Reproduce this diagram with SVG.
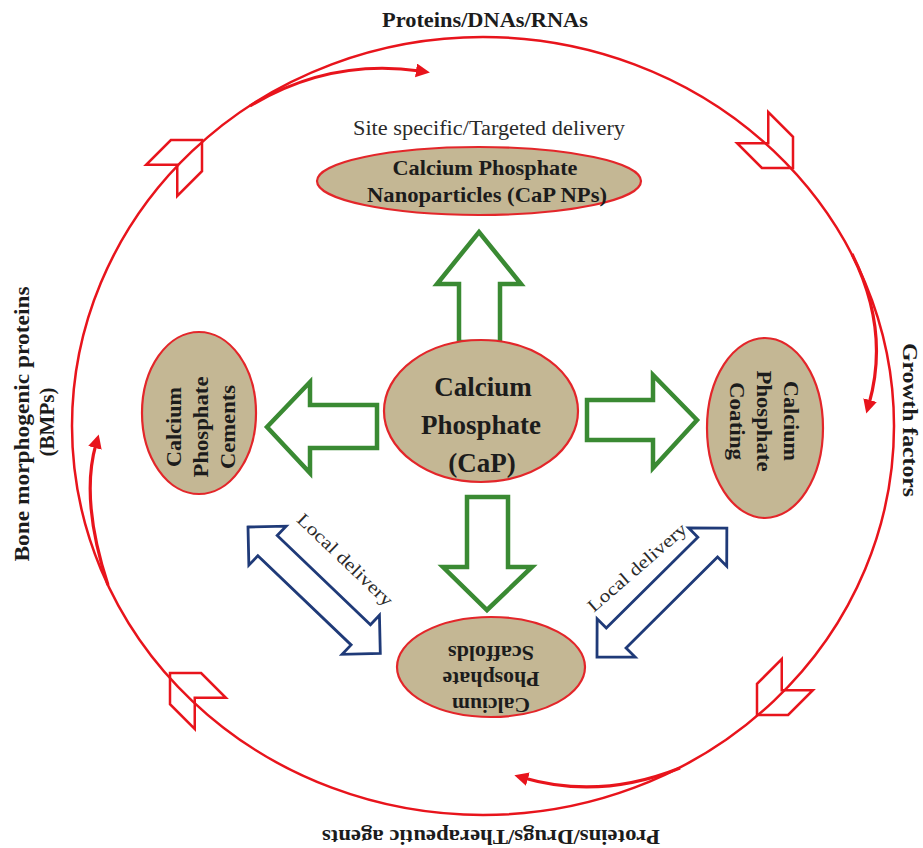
<svg xmlns="http://www.w3.org/2000/svg" xmlns:xlink="http://www.w3.org/1999/xlink" width="923" height="848" viewBox="0 0 923 848">
<style>
.bg{fill:#ffffff}
.n ellipse{fill:#c4b794;stroke:#e3262a;stroke-width:2.2}
.t{font-family:"Liberation Serif","Times New Roman",serif;font-weight:bold;fill:#1c1c1c;text-anchor:middle}
.reg{font-weight:normal;fill:#2a2a2a}
.ring{fill:none;stroke:#e8141c;stroke-width:2.5}
.chev{fill:none;stroke:#e8141c;stroke-width:2.5;stroke-linejoin:miter}
.curl{fill:none;stroke:#e8141c;stroke-width:3.2}
.green{fill:#ffffff;stroke:#3a8a33;stroke-width:4.5;stroke-linejoin:miter}
.blue{fill:#ffffff;stroke:#1f3a78;stroke-width:2.8;stroke-linejoin:miter}
</style>
<defs>
<marker id="ah" markerWidth="16" markerHeight="16" refX="4" refY="7" orient="auto" markerUnits="userSpaceOnUse">
<path d="M0,0 L14,7 L0,14 Z" fill="#e8141c"/>
</marker>
<path id="chv" d="M0,0 L-22,-22 L-57,-22 L-35,0 L-57,22 L-22,22 Z"/>
<polygon id="dbl" points="0,0 27,-27 27,-14 156,-14 156,-27 183,0 156,27 156,14 27,14 27,27"/>
</defs>
<rect class="bg" x="0" y="0" width="923" height="848"/>

<g id="connectors">
<ellipse class="ring" cx="483" cy="426" rx="411" ry="389"/>
<path class="curl" d="M250,106 Q330,58 420,71" marker-end="url(#ah)"/>
<path class="curl" d="M852,254 Q890,330 869,404" marker-end="url(#ah)"/>
<path class="curl" d="M680,768 Q600,800 524,778" marker-end="url(#ah)"/>
<path class="curl" d="M108,585 Q80,500 96,444" marker-end="url(#ah)"/>
<use xlink:href="#chv" class="chev" transform="translate(202,140) rotate(-45)"/>
<use xlink:href="#chv" class="chev" transform="translate(793,168) rotate(45)"/>
<use xlink:href="#chv" class="chev" transform="translate(757,715) rotate(135)"/>
<use xlink:href="#chv" class="chev" transform="translate(170,673) rotate(-135)"/>
<polygon class="green" points="459,342 459,284 437,284 479,232 521,284 500,284 500,342"/>
<polygon class="green" points="377,405 310,405 310,382 267,427 310,473 310,448 377,448"/>
<polygon class="green" points="587,400 653,400 653,375 697,420 653,468 653,440 587,440"/>
<polygon class="green" points="467,497 508,497 508,567 532,567 487,610 443,567 467,567"/>
<use xlink:href="#dbl" class="blue" transform="translate(248,527) rotate(43.7)"/>
<use xlink:href="#dbl" class="blue" transform="translate(597,657) rotate(-44.8)"/>
<text class="t reg" font-size="18" textLength="125" lengthAdjust="spacingAndGlyphs" transform="translate(341,564) rotate(43.7)">Local delivery</text>
<text class="t reg" font-size="18" textLength="125" lengthAdjust="spacingAndGlyphs" transform="translate(641,572) rotate(-41)">Local delivery</text>
</g>

<g id="label-top">
<text class="t" x="485" y="27" font-size="20" textLength="206" lengthAdjust="spacingAndGlyphs">Proteins/DNAs/RNAs</text>
</g>
<g id="label-site">
<text class="t reg" x="489" y="135" font-size="20" textLength="272" lengthAdjust="spacingAndGlyphs">Site specific/Targeted delivery</text>
</g>
<g id="label-left">
<text class="t" font-size="21" textLength="275" lengthAdjust="spacingAndGlyphs" transform="translate(29,424) rotate(-90)">Bone morphogenic proteins</text>
<text class="t" font-size="21" transform="translate(54,422) rotate(-90)">(BMPs)</text>
</g>
<g id="label-right">
<text class="t" font-size="20" textLength="154" lengthAdjust="spacingAndGlyphs" transform="translate(903,420) rotate(90)">Growth factors</text>
</g>
<g id="label-bottom">
<text class="t" font-size="20" textLength="338" lengthAdjust="spacingAndGlyphs" transform="translate(491,830) rotate(180)">Proteins/Drugs/Therapeutic agents</text>
</g>

<g id="node-nanoparticles" class="n">
<ellipse cx="479" cy="181" rx="162" ry="34"/>
<text class="t" x="485" y="175" font-size="21" textLength="185" lengthAdjust="spacingAndGlyphs">Calcium Phosphate</text>
<text class="t" x="487" y="202" font-size="21" textLength="240" lengthAdjust="spacingAndGlyphs">Nanoparticles (CaP NPs)</text>
</g>

<g id="node-cap" class="n">
<ellipse cx="481" cy="411" rx="97" ry="71"/>
<text class="t" x="483" y="396" font-size="27">Calcium</text>
<text class="t" x="481" y="434" font-size="27">Phosphate</text>
<text class="t" x="482" y="472" font-size="27">(CaP)</text>
</g>

<g id="node-cements" class="n">
<ellipse cx="199" cy="413" rx="57" ry="81"/>
<g transform="rotate(-90,199,427)">
<text class="t" x="199" y="409" font-size="21" textLength="80" lengthAdjust="spacingAndGlyphs">Calcium</text>
<text class="t" x="199" y="436" font-size="21" textLength="101" lengthAdjust="spacingAndGlyphs">Phosphate</text>
<text class="t" x="199" y="463" font-size="21" textLength="84" lengthAdjust="spacingAndGlyphs">Cements</text>
</g>
</g>

<g id="node-coating" class="n">
<ellipse cx="765" cy="428" rx="58" ry="90"/>
<g transform="rotate(90,765,421)">
<text class="t" x="765" y="402" font-size="21" textLength="80" lengthAdjust="spacingAndGlyphs">Calcium</text>
<text class="t" x="765" y="429" font-size="21" textLength="101" lengthAdjust="spacingAndGlyphs">Phosphate</text>
<text class="t" x="765" y="456" font-size="21" textLength="78" lengthAdjust="spacingAndGlyphs">Coating</text>
</g>
</g>

<g id="node-scaffolds" class="n">
<ellipse cx="491" cy="667" rx="94" ry="50"/>
<g transform="rotate(180,491,680)">
<text class="t" x="491" y="662" font-size="20" textLength="78" lengthAdjust="spacingAndGlyphs">Calcium</text>
<text class="t" x="491" y="688" font-size="20" textLength="97" lengthAdjust="spacingAndGlyphs">Phosphate</text>
<text class="t" x="491" y="714" font-size="20" textLength="86" lengthAdjust="spacingAndGlyphs">Scaffolds</text>
</g>
</g>
</svg>
